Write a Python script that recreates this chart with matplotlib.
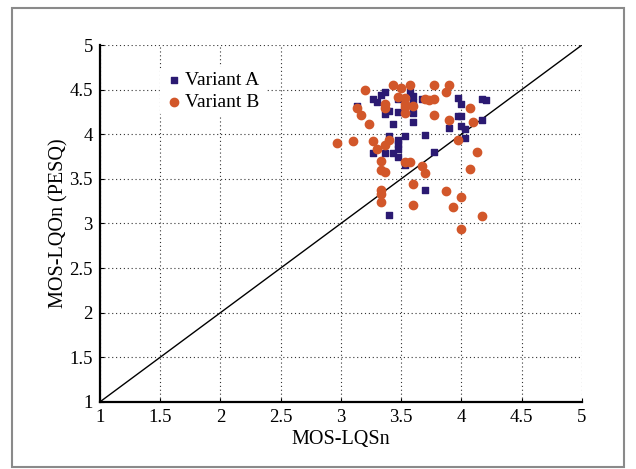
import numpy as np
import matplotlib
matplotlib.use("Agg")
import matplotlib.pyplot as plt
from matplotlib.patches import Rectangle

# Variant A (квадраты)
a_x = [3.13, 3.27, 3.30, 3.33, 3.37, 3.37, 3.40, 3.43, 3.47, 3.47,
       3.57, 3.60, 3.60, 3.60, 3.60, 3.67, 3.97, 4.00, 3.97, 4.00,
       3.90, 4.00, 4.03, 4.03, 4.17, 4.20, 4.17, 3.40, 3.53, 3.70,
       3.47, 3.47, 3.47, 3.27, 3.37, 3.43, 3.47, 3.77, 3.53, 3.70, 3.40]
a_y = [4.32, 4.39, 4.36, 4.44, 4.47, 4.23, 4.26, 4.12, 4.39, 4.25,
       4.47, 4.43, 4.36, 4.24, 4.14, 4.40, 4.41, 4.34, 4.21, 4.21,
       4.07, 4.09, 4.06, 3.96, 4.40, 4.38, 4.16, 3.98, 3.98, 3.99,
       3.94, 3.89, 3.84, 3.79, 3.79, 3.79, 3.74, 3.80, 3.65, 3.38, 3.09]

# Variant B (круги)
b_x = [3.43, 3.57, 3.77, 3.90, 3.50, 3.20, 3.87, 3.47, 3.53, 3.70,
       3.73, 3.77, 3.37, 3.37, 3.53, 3.53, 3.53, 3.60, 3.13, 3.17,
       3.23, 3.77, 3.90, 4.07, 4.10, 2.97, 3.10, 3.27, 3.30, 3.37,
       3.40, 3.97, 4.13, 3.33, 3.33, 3.37, 3.53, 3.57, 3.67, 3.70,
       4.07, 3.60, 3.33, 3.33, 3.33, 3.60, 3.87, 4.00, 3.93, 4.17, 4.00]
b_y = [4.55, 4.55, 4.55, 4.55, 4.52, 4.50, 4.47, 4.42, 4.41, 4.40,
       4.38, 4.39, 4.34, 4.29, 4.34, 4.30, 4.24, 4.32, 4.29, 4.22,
       4.12, 4.22, 4.16, 4.29, 4.14, 3.90, 3.92, 3.92, 3.83, 3.88,
       3.94, 3.94, 3.80, 3.70, 3.60, 3.58, 3.69, 3.69, 3.64, 3.57,
       3.61, 3.44, 3.38, 3.33, 3.24, 3.21, 3.36, 3.30, 3.18, 3.08, 2.94]

ticks = [1, 1.5, 2, 2.5, 3, 3.5, 4, 4.5, 5]
tick_labels = ["1", "1.5", "2", "2.5", "3", "3.5", "4", "4.5", "5"]

plt.rcParams['font.family'] = ['Liberation Serif', 'DejaVu Serif']

fig = plt.figure(figsize=(6.36, 4.69), dpi=100)
ax = fig.add_axes([0.157, 0.143, 0.758, 0.761])

# рамка вокруг всего рисунка
fig.patches.append(Rectangle((12 / 636, 2 / 469), 612 / 636, 459 / 469,
                             transform=fig.transFigure, fill=False,
                             edgecolor='#8a8a8a', linewidth=1.5))

ax.plot([1, 5], [1, 5], color='black', linewidth=1.0, zorder=2)
ax.scatter(a_x, a_y, marker='s', s=22, color='#2b1a72', label='Variant A', zorder=3)
ax.scatter(b_x, b_y, marker='o', s=36, color='#d2572a', label='Variant B', zorder=3)

ax.set_xlim(1, 5)
ax.set_ylim(1, 5)
ax.set_xticks(ticks)
ax.set_xticklabels(tick_labels)
ax.set_yticks(ticks)
ax.set_yticklabels(tick_labels)
ax.tick_params(direction='in', length=3, labelsize=13.5, pad=5)
ax.grid(True, linestyle=(0, (1, 2.5)), color='#333333', linewidth=0.8)
for side in ['top', 'right']:
    ax.spines[side].set_visible(False)
for side in ['left', 'bottom']:
    ax.spines[side].set_linewidth(1.6)
ax.set_xlabel("MOS-LQSn", fontsize=14.5, labelpad=3)
ax.set_ylabel("MOS-LQOn (PESQ)", fontsize=14.5, labelpad=1)

leg = ax.legend(loc='upper left', bbox_to_anchor=(0.105, 0.965), frameon=True,
                fontsize=14, handletextpad=0.1, borderpad=0.2,
                labelspacing=0.25, handlelength=1.0, markerscale=1.0)
leg.get_frame().set_edgecolor('white')
leg.get_frame().set_facecolor('white')
leg.get_frame().set_alpha(1.0)

fig.savefig("out.png", dpi=100)
